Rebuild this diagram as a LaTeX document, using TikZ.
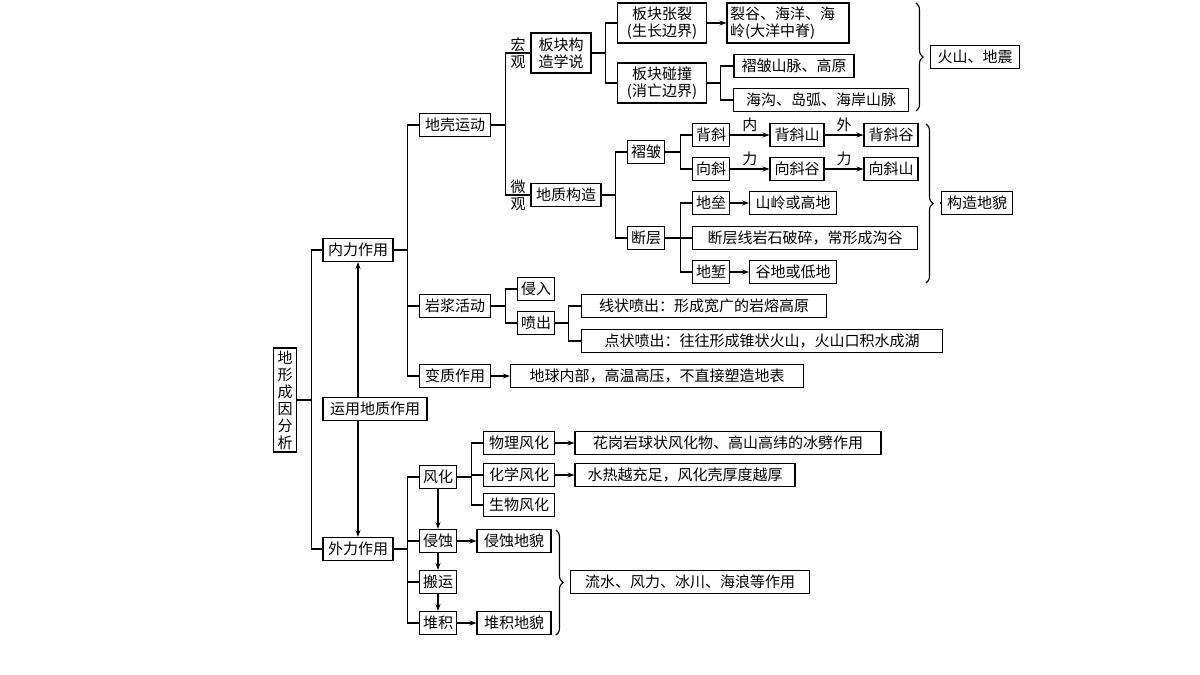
\documentclass[tikz,border=0pt]{standalone}
\usepackage{fontspec}
\setmainfont{Noto Sans CJK SC}
\usetikzlibrary{arrows.meta,decorations.pathreplacing}
\begin{document}
\begin{tikzpicture}[x=1pt,y=-1pt,
  bx/.style={draw,line width=1.1pt,inner sep=0pt,minimum height=23pt,font=\fontsize{15}{17}\selectfont,align=center},
  ln/.style={line width=1.1pt},
  ar/.style={line width=1.1pt,-{Stealth[length=7pt,width=5pt]}},
  lb/.style={font=\fontsize{15}{17}\selectfont,inner sep=0pt,align=center},
  br/.style={line width=1.1pt,decoration={brace,amplitude=7pt},decorate}]
\fill[white] (0,0) rectangle (1200,675);
\useasboundingbox (0,0) rectangle (1200,675);
% level 0-1
\node[bx,minimum width=23pt,minimum height=104pt,text width=16pt] (root) at (285,400) {地\\形\\成\\因\\分\\析};
\node[bx,minimum width=70pt] (nl) at (358,250) {内力作用};
\node[bx,minimum width=104pt] (yy) at (375,409) {运用地质作用};
\node[bx,minimum width=70pt] (wl) at (358,549) {外力作用};
\draw[ln] (root.east) -- ++(14,0) |- (nl.west);
\draw[ln] (root.east) -- ++(14,0) |- (wl.west);
\draw[ar] (yy.north -| nl.south) -- (nl.south);
\draw[ar] (yy.south -| wl.north) -- (wl.north);
% internal
\node[bx,minimum width=71pt] (dk) at (455,125) {地壳运动};
\node[bx,minimum width=71pt] (yj) at (455,306) {岩浆活动};
\node[bx,minimum width=71pt] (bz) at (455,376) {变质作用};
\foreach \c in {dk,yj,bz} \draw[ln] (nl.east) -- ++(14,0) |- (\c.west);
\node[lb] (hg) at (518,53) {宏\\观};
\node[lb] (wg) at (518,195) {微\\观};
\node[bx,minimum width=60pt,minimum height=40pt] (bk) at (561,53) {板块构\\造学说};
\node[bx,minimum width=70pt] (dz) at (566,195) {地质构造};
\draw[ln] (dk.east) -- ++(14,0) |- (bk.west);
\draw[ln] (dk.east) -- ++(14,0) |- (dz.west);
\node[bx,minimum width=89pt,minimum height=40pt] (zl) at (662,23) {板块张裂\\(生长边界)};
\node[bx,minimum width=89pt,minimum height=40pt] (pz) at (662,83) {板块碰撞\\(消亡边界)};
\draw[ln] (bk.east) -- ++(14,0) |- (zl.west);
\draw[ln] (bk.east) -- ++(14,0) |- (pz.west);
\node[bx,minimum width=122pt,minimum height=40pt,text width=116pt,align=left] (lg) at (788,23) {裂谷、海洋、海\\岭(大洋中脊)};
\draw[ar] (zl.east) -- (lg.west);
\node[bx,minimum width=120pt] (zs) at (794,66) {褶皱山脉、高原};
\node[bx,minimum width=175pt] (hs) at (821,100) {海沟、岛弧、海岸山脉};
\draw[ln] (pz.east) -- ++(13,0) |- (zs.west);
\draw[ln] (pz.east) -- ++(13,0) |- (hs.west);
\node[bx,minimum width=89pt] (hd) at (975,57) {火山、地震};
\draw[br] (916,3) -- (916,111);
\coordinate (b1) at (930,57);
\draw[ln] (b1) -- (hd.west);
% 地质构造
\node[bx,minimum width=37pt] (zz) at (646,152) {褶皱};
\node[bx,minimum width=37pt] (dc) at (646,238) {断层};
\draw[ln] (dz.east) -- ++(14,0) |- (zz.west);
\draw[ln] (dz.east) -- ++(14,0) |- (dc.west);
\node[bx,minimum width=37pt] (bx1) at (711,135) {背斜};
\node[bx,minimum width=37pt] (xx1) at (711,169) {向斜};
\draw[ln] (zz.east) -- ++(15,0) |- (bx1.west);
\draw[ln] (zz.east) -- ++(15,0) |- (xx1.west);
\node[bx,minimum width=54pt] (bxs) at (797,135) {背斜山};
\node[bx,minimum width=54pt] (bxg) at (891,135) {背斜谷};
\node[bx,minimum width=54pt] (xxg) at (797,169) {向斜谷};
\node[bx,minimum width=54pt] (xxs) at (891,169) {向斜山};
\draw[ar] (bx1.east) -- node[lb,above=3pt]{内} (bxs.west);
\draw[ar] (bxs.east) -- node[lb,above=3pt]{外} (bxg.west);
\draw[ar] (xx1.east) -- node[lb,above=3pt]{力} (xxg.west);
\draw[ar] (xxg.east) -- node[lb,above=3pt]{力} (xxs.west);
\node[bx,minimum width=37pt] (dl) at (711,203) {地垒};
\node[bx,minimum width=225pt] (dcx) at (805,238) {断层线岩石破碎，常形成沟谷};
\node[bx,minimum width=37pt] (dq) at (711,272) {地堑};
\foreach \c in {dl,dcx,dq} \draw[ln] (dc.east) -- ++(15,0) |- (\c.west);
\node[bx,minimum width=87pt] (sl) at (793,203) {山岭或高地};
\node[bx,minimum width=87pt] (gd) at (793,272) {谷地或低地};
\draw[ar] (dl.east) -- (sl.west);
\draw[ar] (dq.east) -- (gd.west);
\draw[br] (926,124) -- (926,283);
\node[bx,minimum width=71pt] (gz) at (977,203) {构造地貌};
\draw[ln] (940,203) -- (gz.west);
% 岩浆
\node[bx,minimum width=37pt] (qr) at (536,289) {侵入};
\node[bx,minimum width=37pt] (pc) at (536,323) {喷出};
\draw[ln] (yj.east) -- ++(14,0) |- (qr.west);
\draw[ln] (yj.east) -- ++(14,0) |- (pc.west);
\node[bx,minimum width=245pt] (xz) at (704,306) {线状喷出：形成宽广的岩熔高原};
\node[bx,minimum width=361pt] (dzp) at (762,341) {点状喷出：往往形成锥状火山，火山口积水成湖};
\draw[ln] (pc.east) -- ++(13,0) |- (xz.west);
\draw[ln] (pc.east) -- ++(13,0) |- (dzp.west);
\node[bx,minimum width=293pt] (dq2) at (657,376) {地球内部，高温高压，不直接塑造地表};
\draw[ar] (bz.east) -- (dq2.west);
% external
\node[bx,minimum width=37pt] (fh) at (438,477) {风化};
\node[bx,minimum width=37pt] (qs) at (438,541) {侵蚀};
\node[bx,minimum width=37pt] (by) at (438,582) {搬运};
\node[bx,minimum width=37pt] (dj) at (438,623) {堆积};
\foreach \c in {fh,qs,by,dj} \draw[ln] (wl.east) -- ++(14,0) |- (\c.west);
\draw[ar] (fh) -- (qs);
\draw[ar] (qs) -- (by);
\draw[ar] (by) -- (dj);
\node[bx,minimum width=71pt] (wl1) at (519,443) {物理风化};
\node[bx,minimum width=71pt] (hx) at (519,475) {化学风化};
\node[bx,minimum width=71pt] (sw) at (519,505) {生物风化};
\foreach \c in {wl1,hx,sw} \draw[ln] (fh.east) -- ++(14,0) |- (\c.west);
\node[bx,minimum width=306pt] (hg2) at (728,443) {花岗岩球状风化物、高山高纬的冰劈作用};
\node[bx,minimum width=220pt] (sr) at (685,475) {水热越充足，风化壳厚度越厚};
\draw[ar] (wl1.east) -- (hg2.west);
\draw[ar] (hx.east) -- (sr.west);
\node[bx,minimum width=74pt] (qsd) at (514,541) {侵蚀地貌};
\node[bx,minimum width=74pt] (djd) at (514,623) {堆积地貌};
\draw[ar] (qs.east) -- (qsd.west);
\draw[ar] (dj.east) -- (djd.west);
\draw[br] (556,530) -- (556,635);
\node[bx,minimum width=239pt] (ls) at (690,582) {流水、风力、冰川、海浪等作用};
\draw[ln] (570,582) -- (ls.west);
\end{tikzpicture}
\end{document}
